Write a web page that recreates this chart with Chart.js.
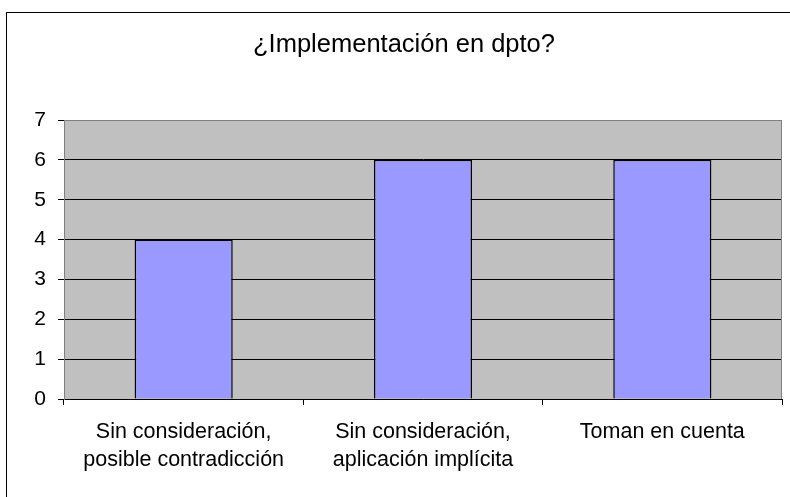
<!DOCTYPE html>
<html>
<head>
<meta charset="utf-8">
<script src="https://cdn.jsdelivr.net/npm/chart.js@4"></script>
<style>
  html, body { margin:0; padding:0; background:#fff; overflow:hidden; }
  #wrap { position:relative; width:790px; height:497px; }
  #frame { position:absolute; left:6px; top:12px; width:800px; height:500px; border:1px solid #000; }
  #chart { position:absolute; left:0; top:0; }
</style>
</head>
<body>
<div id="wrap">
  <div id="frame"></div>
  <canvas id="chart" width="790" height="497"></canvas>
</div>
<script>
// chart data
const chartTitle = '¿Implementación en dpto?';
const categories = [
  ['Sin consideración,', 'posible contradicción'],
  ['Sin consideración,', 'aplicación implícita'],
  'Toman en cuenta'
];
const values = [4, 6, 6];
const yMin = 0;
const yMax = 7;

const fontFamily = "'Liberation Sans', Arial, sans-serif";

// gray plot area + gray outline on top/right
const plotBg = {
  id: 'plotBg',
  beforeDraw(chart) {
    const { ctx, chartArea: a } = chart;
    ctx.save();
    ctx.fillStyle = '#c0c0c0';
    ctx.fillRect(a.left, a.top, a.right - a.left, a.bottom - a.top);
    ctx.restore();
  },
  afterDatasetsDraw(chart) {
    const { ctx, chartArea: a } = chart;
    ctx.save();
    ctx.strokeStyle = '#808080';
    ctx.lineWidth = 1;
    ctx.beginPath();
    ctx.moveTo(a.left, a.top + 0.5);
    ctx.lineTo(a.right - 0.5, a.top + 0.5);
    ctx.lineTo(a.right - 0.5, a.bottom);
    ctx.stroke();
    ctx.restore();
  }
};

new Chart(document.getElementById('chart').getContext('2d'), {
  type: 'bar',
  data: {
    labels: categories,
    datasets: [{
      data: values,
      backgroundColor: '#9999ff',
      borderColor: '#000',
      borderWidth: 1.5,
      barPercentage: 0.41,
      categoryPercentage: 1
    }]
  },
  options: {
    responsive: false,
    animation: false,
    layout: { padding: { left: 26, right: 8, top: 0, bottom: 0 } },
    plugins: {
      legend: { display: false },
      tooltip: { enabled: false },
      title: {
        display: true,
        text: chartTitle,
        color: '#000',
        font: { family: fontFamily, size: 25.5, weight: 'normal' },
        padding: { top: 30, bottom: 59.4 }
      }
    },
    scales: {
      x: {
        grid: { offset: true, drawOnChartArea: false, drawTicks: true, tickLength: 6, color: '#000' },
        border: { color: '#000', width: 1 },
        ticks: {
          color: '#000',
          padding: 13,
          maxRotation: 0,
          font: { family: fontFamily, size: 21.5, lineHeight: 1.3 }
        },
        afterFit(scale) { scale.height = 98; }
      },
      y: {
        min: yMin,
        max: yMax,
        grid: {
          color: (c) => (c.tick && c.tick.value === yMax) ? '#808080' : '#000',
          tickColor: '#000',
          tickLength: 6,
          lineWidth: 1
        },
        border: { color: '#808080', width: 1 },
        ticks: {
          stepSize: 1,
          color: '#000',
          padding: 12,
          font: { family: fontFamily, size: 21 }
        },
        afterFit(scale) { scale.width = 38; }
      }
    }
  },
  plugins: [plotBg]
});
</script>
</body>
</html>
